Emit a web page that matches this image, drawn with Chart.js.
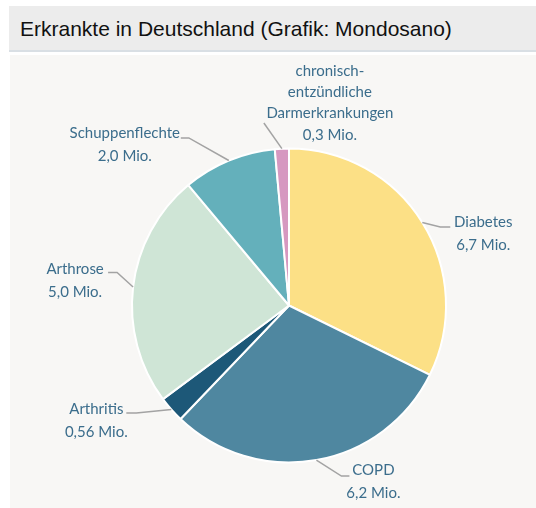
<!DOCTYPE html>
<html>
<head>
<meta charset="utf-8">
<script src="https://cdn.jsdelivr.net/npm/chart.js@4"></script>
<style>
  body { margin: 0; background: #fff; width: 536px; height: 508px; overflow: hidden; }
  #title {
    position: absolute; left: 9px; top: 6px; width: 527px; height: 46px;
    background: #ececec; border-bottom: 2px solid #d9dfe4;
    font-family: "Liberation Sans", Arial, sans-serif; font-size: 21px; color: #111;
    line-height: 46px; padding-left: 11px; box-sizing: border-box;
  }
  #box { position: absolute; left: 10px; top: 55px; width: 526px; height: 453px; background: #f8f7f5; }
</style>
</head>
<body>
<div id="title">Erkrankte in Deutschland (Grafik: Mondosano)</div>
<div id="box"><canvas id="myChart" width="526" height="453"></canvas></div>
<script>
// Daten
const categories = ['Diabetes', 'COPD', 'Arthritis', 'Arthrose', 'Schuppenflechte', 'chronisch-entzündliche Darmerkrankungen'];
const values = [6.7, 6.2, 0.56, 5.0, 2.0, 0.3]; // Mio.
const labelLines = [['Diabetes'], ['COPD'], ['Arthritis'], ['Arthrose'], ['Schuppenflechte'], ['chronisch-', 'entzündliche', 'Darmerkrankungen']];
const colors = ['#fce086', '#4f87a0', '#1d5878', '#cfe5d6', '#64b0bb', '#d698c0'];

// Beschriftung: Knick, Ende der Linie und Textmitte relativ zum Rand des Segments
const placement = [
  { elbow: [18, 4.5], end: [28, 4.5], text: [61, -0.5] },
  { elbow: [25, 16], end: [33, 16], text: [57, 10] },
  { elbow: [-35, 3.5], end: [-45, 3.5], text: [-75, -0.5] },
  { elbow: [-16, -14.5], end: [-25, -14.5], text: [-58, -17.5] },
  { elbow: [-40, -22.6], end: [-48, -22.6], text: [-104, -27.6] },
  { elbow: [-18, -25.7], end: [-18, -25.7], text: [48, -77.7] }
];

const fmt = v => v.toLocaleString('de-DE', { minimumFractionDigits: 1 }) + ' Mio.';

const labelPlugin = {
  id: 'labelPlugin',
  afterDatasetsDraw(chart) {
    const ctx = chart.ctx;
    const meta = chart.getDatasetMeta(0);
    meta.data.forEach((arc, i) => {
      const p = arc.getProps(['x', 'y', 'startAngle', 'endAngle', 'outerRadius'], true);
      const mid = (p.startAngle + p.endAngle) / 2;
      const ex = p.x + Math.cos(mid) * p.outerRadius;
      const ey = p.y + Math.sin(mid) * p.outerRadius;
      const pl = placement[i];
      ctx.save();
      ctx.strokeStyle = '#a3a3a3';
      ctx.lineWidth = 1.5;
      ctx.beginPath();
      ctx.moveTo(ex, ey);
      ctx.lineTo(ex + pl.elbow[0], ey + pl.elbow[1]);
      ctx.lineTo(ex + pl.end[0], ey + pl.end[1]);
      ctx.stroke();
      ctx.fillStyle = '#3b6d8c';
      ctx.font = '15px Lato, sans-serif';
      ctx.textAlign = 'center';
      ctx.textBaseline = 'middle';
      const lines = labelLines[i].concat([fmt(values[i])]);
      const lh = lines.length > 2 ? 21.3 : 23;
      lines.forEach((t, k) => {
        ctx.fillText(t, ex + pl.text[0], ey + pl.text[1] + k * lh);
      });
      ctx.restore();
    });
  }
};

let ctx = document.getElementById('myChart').getContext('2d');
let myChart = new Chart(ctx, {
  type: 'pie',
  data: {
    labels: categories,
    datasets: [{
      data: values,
      backgroundColor: colors,
      borderColor: '#ffffff',
      borderWidth: 2
    }]
  },
  options: {
    responsive: false,
    animation: false,
    layout: { padding: { left: 121, right: 89, top: 92.5, bottom: 44.5 } },
    plugins: { legend: { display: false }, tooltip: { enabled: false } }
  },
  plugins: [labelPlugin]
});
</script>
</body>
</html>
